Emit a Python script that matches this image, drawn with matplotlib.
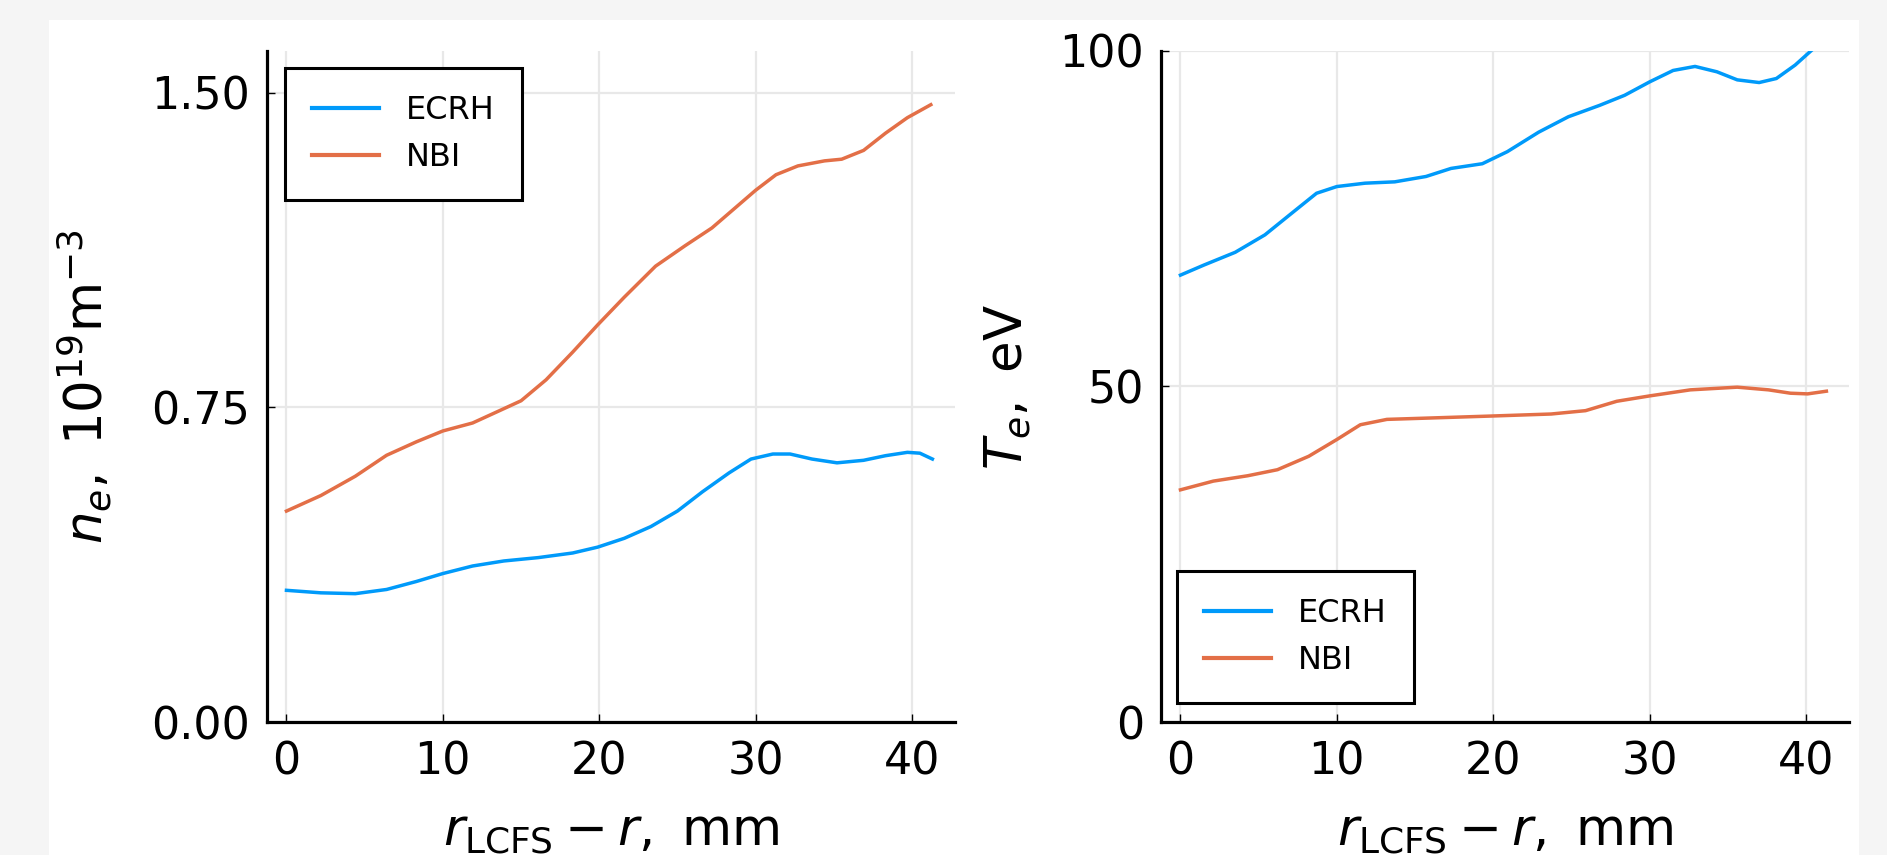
import matplotlib
matplotlib.use("Agg")
import matplotlib.pyplot as plt
from matplotlib.patches import Rectangle

# ---------------- data ----------------
ne_ecrh_x = [0, 2.2, 4.4, 6.4, 8.3, 10.0, 11.9, 13.9, 16.1, 18.3, 19.9, 21.6, 23.3, 25.0,
             26.6, 28.3, 29.7, 31.1, 32.2, 33.6, 35.2, 36.9, 38.3, 39.7, 40.5, 41.3]
ne_ecrh_y = [0.314, 0.308, 0.306, 0.316, 0.335, 0.354, 0.372, 0.384, 0.392, 0.403, 0.417,
             0.438, 0.466, 0.503, 0.549, 0.594, 0.627, 0.639, 0.639, 0.627, 0.618, 0.624,
             0.635, 0.643, 0.641, 0.627]

ne_nbi_x = [0, 2.2, 4.4, 6.4, 8.3, 10.0, 11.9, 13.6, 15.0, 16.6, 18.3, 19.9, 21.6, 23.6,
            25.5, 27.2, 28.6, 30.0, 31.3, 32.7, 34.4, 35.5, 36.9, 38.3, 39.7, 41.2]
ne_nbi_y = [0.503, 0.540, 0.586, 0.636, 0.668, 0.694, 0.713, 0.742, 0.766, 0.816, 0.882,
            0.947, 1.013, 1.087, 1.136, 1.178, 1.223, 1.268, 1.305, 1.326, 1.338, 1.342,
            1.363, 1.404, 1.441, 1.472]

te_ecrh_x = [0, 1.5, 3.5, 5.4, 7.1, 8.7, 10.0, 11.8, 13.7, 15.7, 17.3, 19.3, 20.9, 22.9,
             24.8, 26.8, 28.4, 30.0, 31.5, 32.9, 34.3, 35.6, 37.0, 38.1, 39.3, 40.4, 41.3]
te_ecrh_y = [66.6, 68.1, 70.0, 72.6, 75.8, 78.8, 79.8, 80.3, 80.5, 81.3, 82.5, 83.2, 85.0,
             87.9, 90.2, 91.9, 93.4, 95.4, 97.1, 97.7, 96.9, 95.7, 95.3, 95.9, 97.9, 100.2,
             103.0]

te_nbi_x = [0, 2.1, 4.3, 6.2, 8.2, 10.0, 11.5, 13.2, 15.9, 19.9, 23.7, 25.9, 27.9, 30.0,
            32.6, 35.6, 37.6, 39.0, 40.1, 41.3]
te_nbi_y = [34.6, 35.9, 36.7, 37.6, 39.6, 42.1, 44.3, 45.1, 45.3, 45.6, 45.9, 46.4, 47.8,
            48.6, 49.5, 49.9, 49.5, 49.0, 48.9, 49.3]

series_labels = ["ECRH", "NBI"]
xticks = [0, 10, 20, 30, 40]
ne_ticks = [0.0, 0.75, 1.50]
ne_ticklabels = ["0.00", "0.75", "1.50"]
te_ticks = [0, 50, 100]
te_ticklabels = ["0", "50", "100"]

# ---------------- style ----------------
plt.rcParams["font.family"] = ["DejaVu Sans"]
plt.rcParams["mathtext.fontset"] = "dejavusans"

C_ECRH = "#009afa"
C_NBI = "#e36f47"
W, H = 1887, 855
fig = plt.figure(figsize=(W / 100, H / 100), dpi=100)
fig.patch.set_facecolor("#f5f5f5")
fig.patches.append(Rectangle((49 / W, 0), (1859 - 49) / W, (855 - 20) / H,
                             transform=fig.transFigure, facecolor="white",
                             edgecolor="none", zorder=-5))

bottom = 1 - 722 / H
top = 1 - 51 / H
axL = fig.add_axes([267 / W, bottom, (955 - 267) / W, top - bottom])
axR = fig.add_axes([1161 / W, bottom, (1849 - 1161) / W, top - bottom])

XLABEL = r"$r_\mathrm{LCFS} - r,\ \mathrm{mm}$"


def style(ax, yticks, yticklabels, ylim):
    ax.set_facecolor("white")
    ax.set_xlim(-1.245, 42.745)
    ax.set_ylim(*ylim)
    ax.set_xticks(xticks)
    ax.set_yticks(yticks)
    ax.set_yticklabels(yticklabels)
    for s in ["top", "right"]:
        ax.spines[s].set_visible(False)
    for s in ["left", "bottom"]:
        ax.spines[s].set_linewidth(2.3)
        ax.spines[s].set_color("black")
    ax.tick_params(axis="both", direction="in", length=6, width=1.0,
                   labelsize=32, colors="black")
    ax.tick_params(axis="x", pad=13)
    ax.tick_params(axis="y", pad=12)
    ax.grid(True, color="#e8e8e8", linewidth=1.6)
    ax.set_axisbelow(True)
    ax.set_xlabel(XLABEL, fontsize=37)
    ax.xaxis.set_label_coords(0.5, -0.125)


style(axL, ne_ticks, ne_ticklabels, (0, 1.6))
style(axR, te_ticks, te_ticklabels, (0, 100))

LW = 2.5
axL.plot(ne_ecrh_x, ne_ecrh_y, color=C_ECRH, lw=LW, label=series_labels[0])
axL.plot(ne_nbi_x, ne_nbi_y, color=C_NBI, lw=LW, label=series_labels[1])
axR.plot(te_ecrh_x, te_ecrh_y, color=C_ECRH, lw=LW, label=series_labels[0])
axR.plot(te_nbi_x, te_nbi_y, color=C_NBI, lw=LW, label=series_labels[1])

axL.set_ylabel(r"$n_e,\ 10^{19}\mathrm{m}^{-3}$", fontsize=37)
axL.yaxis.set_label_coords(-0.222, 0.5)
axR.set_ylabel(r"$T_e,\ \mathrm{eV}$", fontsize=37)
axR.yaxis.set_label_coords(-0.186, 0.5)

leg_kw = dict(fontsize=23, frameon=True, fancybox=False, framealpha=1,
              edgecolor="black", borderaxespad=0, handlelength=2.1,
              handletextpad=0.85, labelspacing=0.5, borderpad=0.85)
lg1 = axL.legend(loc="upper left", bbox_to_anchor=(0.026, 0.975), **leg_kw)
lg2 = axR.legend(loc="lower left", bbox_to_anchor=(0.023, 0.028), **leg_kw)
for lg in (lg1, lg2):
    lg.get_frame().set_linewidth(2.2)
    for ln in lg.get_lines():
        ln.set_linewidth(3.0)

fig.savefig("out.png", dpi=100, facecolor=fig.get_facecolor())
